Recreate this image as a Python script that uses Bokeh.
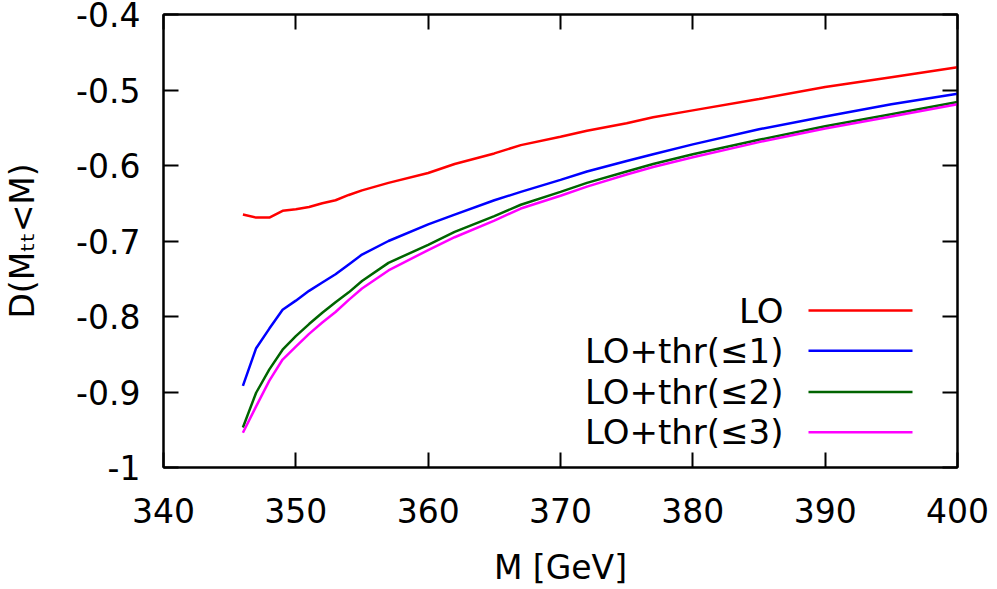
from bokeh.plotting import figure
from bokeh.models import Range1d, LinearAxis, FixedTicker, Label, Arrow
from bokeh.embed import file_html
from bokeh.resources import INLINE

# ---- data ----
M = [346, 347, 348, 349, 350, 351, 352, 353, 354, 355, 357, 360, 362, 365,
     367, 370, 372, 375, 377, 380, 385, 390, 395, 400]
LO = [-0.665, -0.669, -0.669, -0.660, -0.658, -0.655, -0.650, -0.646, -0.639,
      -0.633, -0.623, -0.610, -0.598, -0.584, -0.573, -0.562, -0.554, -0.544,
      -0.536, -0.527, -0.512, -0.496, -0.483, -0.470]
thr1 = [-0.892, -0.842, -0.816, -0.791, -0.779, -0.766, -0.755, -0.744, -0.731,
        -0.718, -0.700, -0.678, -0.665, -0.646, -0.635, -0.619, -0.608, -0.594,
        -0.585, -0.572, -0.552, -0.535, -0.519, -0.505]
thr2 = [-0.947, -0.901, -0.870, -0.844, -0.826, -0.810, -0.795, -0.781, -0.768,
        -0.753, -0.729, -0.705, -0.688, -0.667, -0.652, -0.635, -0.623, -0.608,
        -0.598, -0.585, -0.566, -0.548, -0.532, -0.516]
thr3 = [-0.954, -0.919, -0.885, -0.857, -0.840, -0.823, -0.808, -0.794, -0.778,
        -0.763, -0.739, -0.712, -0.695, -0.673, -0.657, -0.640, -0.628, -0.612,
        -0.602, -0.589, -0.569, -0.551, -0.535, -0.519]
series_names = ["LO", "LO+thr(≤1)", "LO+thr(≤2)", "LO+thr(≤3)"]
series_vals = [LO, thr1, thr2, thr3]
series_colors = ["#ff0000", "#0000ff", "#006400", "#ff00ff"]

x_ticks = [340, 350, 360, 370, 380, 390, 400]
x_tick_labels = ["340", "350", "360", "370", "380", "390", "400"]
y_ticks = [-1.0, -0.9, -0.8, -0.7, -0.6, -0.5, -0.4]
y_tick_labels = ["-1", "-0.9", "-0.8", "-0.7", "-0.6", "-0.5", "-0.4"]
x_title = "M [GeV]"
y_title = "D(Mₜₜ<M)"

FONT = "DejaVu Sans"
FS = "33px"
KEY_FS = "34px"

p = figure(width=997, height=589, x_range=Range1d(340, 400), y_range=Range1d(-1, -0.4),
           output_backend="svg", toolbar_location=None,
           min_border_left=163, min_border_right=40, min_border_top=14, min_border_bottom=121)
p.xgrid.visible = False
p.ygrid.visible = False
p.outline_line_color = "black"
p.outline_line_width = 2
p.background_fill_color = "white"
p.border_fill_color = "white"

for vals, col in zip(series_vals, series_colors):
    p.line(M, vals, line_color=col, line_width=2.5)

def style(ax):
    ax.axis_line_color = "black"
    ax.axis_line_width = 2
    ax.major_tick_line_color = "black"
    ax.major_tick_line_width = 2
    ax.major_tick_in = 15
    ax.major_tick_out = 0
    ax.minor_tick_line_color = None
    ax.major_label_text_font = FONT
    ax.major_label_text_font_size = FS
    ax.major_label_text_color = "black"
    ax.axis_label_text_font = FONT
    ax.axis_label_text_font_size = FS
    ax.axis_label_text_font_style = "normal"
    ax.axis_label_text_color = "black"

xax = p.xaxis[0]
yax = p.yaxis[0]
style(xax)
style(yax)
xax.ticker = FixedTicker(ticks=x_ticks)
xax.major_label_overrides = dict(zip(x_ticks, x_tick_labels))
yax.ticker = FixedTicker(ticks=y_ticks)
yax.major_label_overrides = dict(zip(y_ticks, y_tick_labels))
xax.axis_label = x_title
yax.axis_label = y_title
xax.major_label_standoff = 30
xax.axis_label_standoff = 22
yax.major_label_standoff = 23
yax.axis_label_standoff = 31

# mirror ticks (no labels)
rax = LinearAxis(ticker=FixedTicker(ticks=y_ticks))
style(rax)
rax.major_label_overrides = {t: "" for t in y_ticks}
rax.major_label_standoff = 0
rax.major_label_text_font_size = "1px"
p.add_layout(rax, "right")
tax = LinearAxis(ticker=FixedTicker(ticks=x_ticks))
style(tax)
tax.major_label_overrides = {t: "" for t in x_ticks}
tax.major_label_standoff = 0
tax.major_label_text_font_size = "1px"
p.add_layout(tax, "above")

# ---- key (gnuplot style: text then line sample) ----
key_text_x = 386.85
key_line_x0, key_line_x1 = 388.74, 396.6
key_rows = [-0.7921, -0.8454, -0.8999, -0.9533]
for name, col, yk in zip(series_names, series_colors, key_rows):
    p.add_layout(Label(x=key_text_x, y=yk, text=name, text_align="right",
                       text_baseline="middle", text_font=FONT, text_font_size=KEY_FS,
                       text_color="black"))
    p.add_layout(Arrow(end=None, x_start=key_line_x0, y_start=yk, x_end=key_line_x1,
                       y_end=yk, line_color=col, line_width=2.5))

open("out.html", "w").write(file_html(p, INLINE))
